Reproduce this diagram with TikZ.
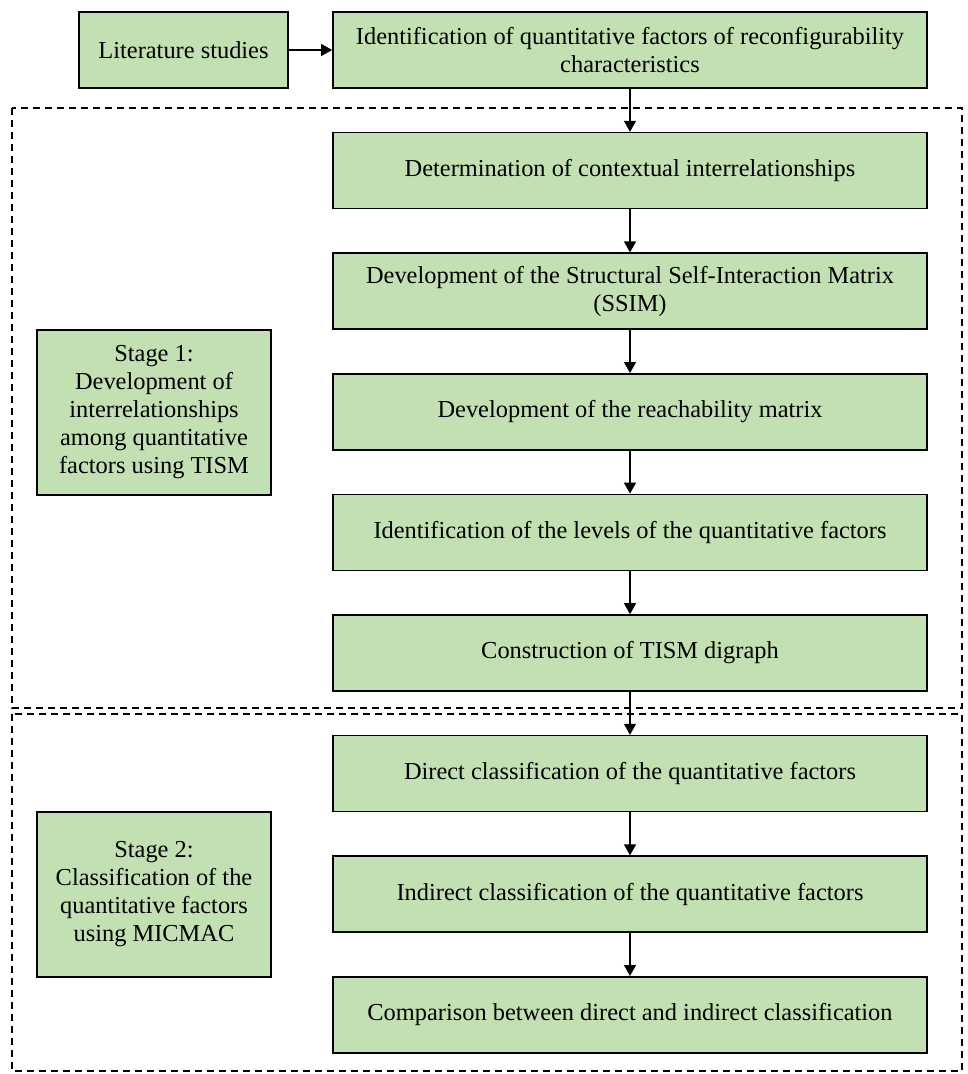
\documentclass[tikz,border=0pt]{standalone}
\usepackage{fontspec}
\setmainfont{Liberation Serif}
\usetikzlibrary{positioning, arrows.meta}
\definecolor{boxGreen}{HTML}{C2E0B2}

\begin{document}
\begin{tikzpicture}[x=1pt, y=1pt,
    font=\fontsize{24.4}{28}\selectfont,
    node distance=43pt,
    stepbox/.style={draw=black, fill=boxGreen, line width=1.6pt,
      minimum width=594pt, minimum height=76pt, align=center, inner sep=4pt},
    stagebox/.style={draw=black, fill=boxGreen, line width=1.6pt,
      minimum width=234pt, minimum height=165pt, align=center, inner sep=4pt},
    flow/.style={line width=1.4pt, -{Triangle[length=11pt, width=12pt]}},
    region/.style={line width=1.5pt, dash pattern=on 7pt off 5pt}]
  \useasboundingbox (0,0) rectangle (967,-1074);

  % stage regions
  \draw[region] (12,-108) rectangle (962,-708);
  \draw[region] (12,-714) rectangle (962,-1071);

  % main flow
  \node[stepbox] (ident) at (630,-50) {Identification of quantitative factors of reconfigurability\\characteristics};
  \node[stepbox, minimum width=209pt] (lit) at (183.5,-50) {Literature studies};
  \node[stepbox, below=of ident] (context) {Determination of contextual interrelationships};
  \node[stepbox, below=of context] (ssim) {Development of the Structural Self-Interaction Matrix\\(SSIM)};
  \node[stepbox, below=of ssim] (reach) {Development of the reachability matrix};
  \node[stepbox, below=of reach] (levels) {Identification of the levels of the quantitative factors};
  \node[stepbox, below=of levels] (digraph) {Construction of TISM digraph};
  \node[stepbox, below=of digraph] (direct) {Direct classification of the quantitative factors};
  \node[stepbox, below=of direct] (indirect) {Indirect classification of the quantitative factors};
  \node[stepbox, below=of indirect] (compare) {Comparison between direct and indirect classification};

  % stage labels
  \node[stagebox] (stage1) at (154,-412.5) {Stage 1:\\Development of\\interrelationships\\among quantitative\\factors using TISM};
  \node[stagebox] (stage2) at (154,-894.5) {Stage 2:\\Classification of the\\quantitative factors\\using MICMAC};

  \draw[flow] (lit) -- (ident);
  \draw[flow] (ident) -- (context);
  \draw[flow] (context) -- (ssim);
  \draw[flow] (ssim) -- (reach);
  \draw[flow] (reach) -- (levels);
  \draw[flow] (levels) -- (digraph);
  \draw[flow] (digraph) -- (direct);
  \draw[flow] (direct) -- (indirect);
  \draw[flow] (indirect) -- (compare);
\end{tikzpicture}
\end{document}
